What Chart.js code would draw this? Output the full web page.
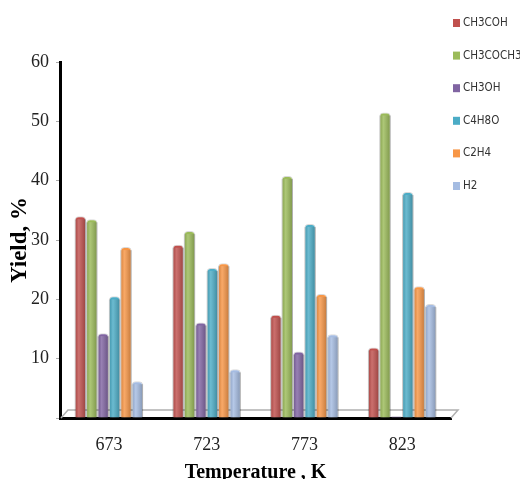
<!DOCTYPE html>
<html>
<head>
<meta charset="utf-8">
<script src="https://cdn.jsdelivr.net/npm/chart.js@4"></script>
<style>
  body { margin: 0; background: #fff; }
  #wrap { width: 520px; height: 479px; }
</style>
</head>
<body>
<div id="wrap"><canvas id="chart" width="520" height="479"></canvas></div>
<script>
const temperatures = ['673', '723', '773', '823'];
const ch3coh   = [34.0, 29.2, 17.4, 11.9];
const ch3coch3 = [33.5, 31.5, 40.8, 51.5];
const ch3oh    = [14.3, 16.1, 11.2, 0.3];
const c4h8o    = [20.5, 25.3, 32.7, 38.1];
const c2h4     = [28.8, 26.1, 20.9, 22.2];
const h2       = [6.2, 8.2, 14.1, 19.2];
const yTicks   = [10, 20, 30, 40, 50, 60];

function series(label, data, color) {
    return {
        label: label,
        data: data,
        backgroundColor: color,
        borderColor: 'rgba(0,0,0,0.15)',
        borderWidth: 1,
        borderSkipped: 'bottom',
        borderRadius: { topLeft: 4, topRight: 4 }
    };
}

// shading to make the bars look like cylinders
const cylinder = {
    id: 'cylinder',
    afterDatasetsDraw(chart) {
        const c = chart.ctx;
        chart.data.datasets.forEach((ds, i) => {
            chart.getDatasetMeta(i).data.forEach(bar => {
                const l = bar.x - bar.width / 2, r = bar.x + bar.width / 2;
                const g = c.createLinearGradient(l, 0, r, 0);
                g.addColorStop(0, 'rgba(0,0,0,0.12)');
                g.addColorStop(0.35, 'rgba(255,255,255,0.18)');
                g.addColorStop(1, 'rgba(0,0,0,0.22)');
                c.save();
                c.fillStyle = g;
                c.fillRect(l, bar.y + 3, bar.width, Math.max(0, bar.base - bar.y - 3));
                c.restore();
            });
        });
    }
};

// grey 3D floor under the bars
const floor = {
    id: 'floor',
    beforeDatasetsDraw(chart) {
        const a = chart.chartArea, c = chart.ctx;
        c.save();
        c.strokeStyle = '#b0b0b0';
        c.lineWidth = 1.5;
        c.beginPath();
        c.moveTo(a.left + 1, a.bottom);
        c.lineTo(a.left + 8, a.bottom - 8);
        c.lineTo(a.right + 7, a.bottom - 8);
        c.lineTo(a.right, a.bottom);
        c.stroke();
        c.restore();
    }
};

// legend in the top right corner, next to the plot
const sideLegend = {
    id: 'sideLegend',
    afterDraw(chart) {
        const c = chart.ctx;
        c.save();
        c.font = '11.5px "DejaVu Sans Condensed", "DejaVu Sans"';
        c.textBaseline = 'middle';
        chart.data.datasets.forEach((ds, i) => {
            const y = 23 + i * 32.6;
            c.fillStyle = ds.backgroundColor;
            c.fillRect(453, y - 4, 7, 8);
            c.fillStyle = '#333';
            c.fillText(ds.label, 463, y);
        });
        c.restore();
    }
};

new Chart(document.getElementById('chart'), {
    type: 'bar',
    data: {
        labels: temperatures,
        datasets: [
            series('CH3COH', ch3coh, '#C0504D'),
            series('CH3COCH3', ch3coch3, '#9BBB59'),
            series('CH3OH', ch3oh, '#8064A2'),
            series('C4H8O', c4h8o, '#4BACC6'),
            series('C2H4', c2h4, '#F79646'),
            series('H2', h2, '#A5BCE2')
        ]
    },
    options: {
        responsive: false,
        animation: false,
        layout: { padding: { top: 62, right: 69, left: 9, bottom: -4 } },
        datasets: { bar: { categoryPercentage: 0.7, barPercentage: 1 } },
        scales: {
            x: {
                grid: { display: false, drawTicks: false },
                border: { color: '#000', width: 3 },
                ticks: { color: '#222', padding: 18, font: { family: 'Liberation Serif', size: 18, lineHeight: 1 } },
                title: {
                    display: true, text: 'Temperature , K', color: '#000', padding: { top: -9, bottom: 0 },
                    font: { family: 'Liberation Serif', size: 20, weight: 'bold', lineHeight: 1 }
                }
            },
            y: {
                min: 0, max: 60,
                afterBuildTicks: axis => { axis.ticks = [0].concat(yTicks).map(v => ({ value: v })); },
                grid: { display: true, drawOnChartArea: false, drawTicks: true, tickLength: 4, tickColor: '#aaa' },
                border: { color: '#000', width: 3 },
                ticks: {
                    color: '#222', padding: 7,
                    font: { family: 'Liberation Serif', size: 18 },
                    callback: v => v === 0 ? '' : v
                },
                title: {
                    display: true, text: 'Yield, %', color: '#000', padding: { top: 0, bottom: -8 },
                    font: { family: 'Liberation Serif', size: 23, weight: 'bold', lineHeight: 1 }
                }
            }
        },
        plugins: {
            legend: { display: false },
            tooltip: { enabled: false }
        }
    },
    plugins: [floor, cylinder, sideLegend]
});
</script>
</body>
</html>
